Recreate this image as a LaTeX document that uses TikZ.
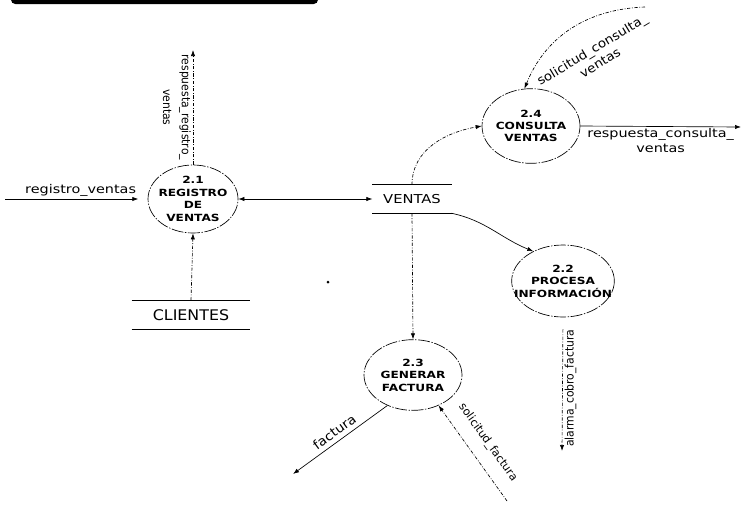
\documentclass[tikz,border=0pt]{standalone}
\usepackage{fontspec}
\setmainfont{DejaVu Sans}
\newfontfamily\wideface{DejaVu Sans}[FakeStretch=1.2]
\newfontfamily\procface{DejaVu Sans}[FakeStretch=1.23]
\newfontfamily\midface{DejaVu Sans}[FakeStretch=1.08]
\newfontfamily\tallface{DejaVu Sans}[FakeStretch=0.92]
\usetikzlibrary{arrows.meta,shapes.geometric}

\tikzset{
  proc/.style  = {ellipse, draw, line width=0.5pt,
                  dash pattern=on 9pt off 1.2pt on 1pt off 1.2pt, inner sep=0pt},
  ptext/.style = {font=\procface\bfseries\fontsize{7.4}{9.3}\selectfont, align=center},
  store/.style = {inner sep=0pt, font=\wideface\fontsize{9.2}{11}\selectfont},
  dflow/.style = {dash pattern=on 2.5pt off 1.2pt on 0.6pt off 1.2pt},
  hlbl/.style  = {font=\wideface\fontsize{9}{11.2}\selectfont, align=center, inner sep=1.5pt},
  vlbl/.style  = {font=\tallface\fontsize{8.8}{14}\selectfont, align=center, inner sep=1.5pt},
  dlbl/.style  = {font=\midface\fontsize{9.3}{11.5}\selectfont, align=center, inner sep=1.5pt},
}

\begin{document}
\begin{tikzpicture}[x=0.75pt, y=-0.75pt, >={Latex[length=4.5pt,width=3.2pt]}]
  \useasboundingbox (0,0) rectangle (745,508);
  \draw[line width=3pt, rounded corners=2pt] (13,-8) -- (13,2) -- (316,2) -- (316,-8);
  \fill (328,282) circle (1.5);

  \node[proc, minimum width=67.5pt, minimum height=51pt,
        label={[ptext]center:{2.1\\REGISTRO\\DE\\VENTAS}}]      (p21) at (193,199) {};
  \node[proc, minimum width=73.5pt, minimum height=56pt,
        label={[ptext]center:{2.4\\CONSULTA\\VENTAS}}]          (p24) at (531,126) {};
  \node[proc, minimum width=77pt, minimum height=54pt,
        label={[ptext]center:{2.2\\PROCESA\\INFORMACIÓN}}]      (p22) at (563,281) {};
  \node[proc, minimum width=73.5pt, minimum height=53pt,
        label={[ptext]center:{2.3\\GENERAR\\FACTURA}}]          (p23) at (413,375) {};

  \node[store, minimum width=59pt, minimum height=21pt]         (ventas) at (412,199) {VENTAS};
  \node[store, font=\midface\fontsize{11}{13}\selectfont,
        minimum width=88.5pt, minimum height=21.75pt]           (clientes) at (191,315) {CLIENTES};
  \foreach \s in {ventas,clientes}
    \draw[line width=0.6pt] (\s.north west) -- (\s.north east) (\s.south west) -- (\s.south east);

  \coordinate (rv)  at (5,199);
  \coordinate (rrv) at (193,50);
  \coordinate (scv) at (645,7);
  \coordinate (rcv) at (741,127);
  \coordinate (acf) at (562,451);
  \coordinate (fac) at (293,474);
  \coordinate (sfa) at (507,501);

  \path[->, line width=0.5pt]
    (rv) edge[shorten >=7pt] node[hlbl, above, pos=0.53] {registro\_ventas} (p21.west)
    (p21.east) edge[<->] (ventas.west)
    (p21.north) edge[dflow] node[vlbl, rotate=-90, anchor=north, pos=0.5] {respuesta\_registro\_\\ventas} (rrv)
    (clientes.north) edge[dflow] (p21.south)
    (ventas.north) edge[dflow, out=90, in=190] (p24.west)
    (scv) edge[dflow, out=182, in=68] (p24.100)
    (p24.east) edge node[hlbl, below, midway] {respuesta\_consulta\_\\ventas} (rcv)
    (ventas.south east) edge[out=-12, in=158] (p22.135)
    (ventas.south) edge[dflow] (p23.north)
    (p22.south) edge[dflow, shorten <=9pt] node[vlbl, rotate=90, anchor=north, pos=0.53] {alarma\_cobro\_factura} (acf)
    (p23.230) edge node[dlbl, font=\midface\fontsize{9.6}{11.5}\selectfont, sloped, above=2pt, midway] {factura} (fac)
    (sfa) edge[dflow] node[dlbl, font=\fontsize{8.4}{10}\selectfont, sloped, above=8pt, midway] {solicitud\_factura} (p23.-50)
  ;
  \node[dlbl, rotate=31] (lscv) at (596,56) {solicitud\_consulta\_\\ventas};
\end{tikzpicture}
\end{document}
